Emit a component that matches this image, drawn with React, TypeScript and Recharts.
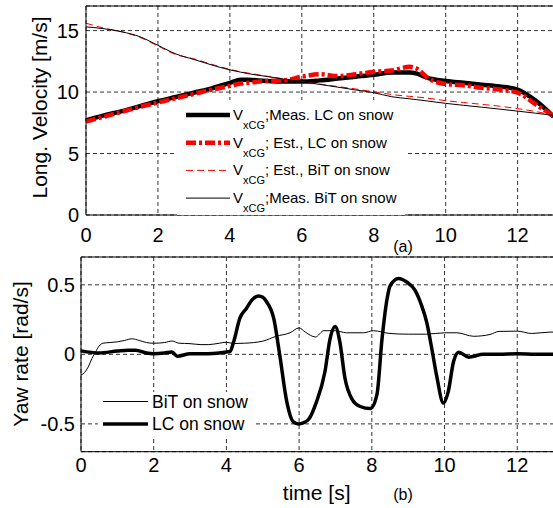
import { CartesianGrid, Legend, Line, LineChart, ReferenceLine, XAxis, YAxis } from "recharts";

const FONT = '"Liberation Sans", Arial, Helvetica, sans-serif';

// (a) longitudinal velocity
const velTime = [0, 0.5, 1, 1.5, 2, 2.5, 3, 3.5, 4, 4.3, 4.5, 5, 5.5, 6, 6.5, 7, 7.5, 8, 8.5, 9, 9.2, 9.5, 10, 10.5, 11, 11.5, 12, 12.5, 13];
const measLC = [7.7, 8.1, 8.45, 8.85, 9.25, 9.6, 9.95, 10.3, 10.75, 11.0, 11.0, 10.9, 10.85, 10.85, 10.95, 11.1, 11.25, 11.4, 11.6, 11.6, 11.5, 11.15, 10.9, 10.75, 10.6, 10.45, 10.2, 9.3, 8.0];
const estLC = [7.6, 8.0, 8.4, 8.8, 9.15, 9.5, 9.85, 10.2, 10.5, 10.7, 10.75, 10.9, 10.95, 11.25, 11.45, 11.3, 11.45, 11.65, 11.75, 12.05, 11.9, 11.15, 10.65, 10.55, 10.35, 10.2, 9.95, 9.0, 8.05];
const estBiT = [15.6, 15.2, 14.9, 14.45, 13.75, 13.05, 12.7, 12.25, 11.85, 11.65, 11.55, 11.3, 11.08, 10.86, 10.65, 10.45, 10.25, 10.02, 9.8, 9.65, 9.6, 9.5, 9.3, 9.15, 9.0, 8.85, 8.65, 8.42, 8.1];
const measBiT = [15.3, 15.15, 14.9, 14.5, 13.8, 13.1, 12.65, 12.2, 11.8, 11.62, 11.5, 11.28, 11.05, 10.84, 10.62, 10.4, 10.17, 9.95, 9.62, 9.45, 9.38, 9.27, 9.08, 8.92, 8.77, 8.61, 8.45, 8.28, 8.1];

// (b) yaw rate
const lcTime = [0, 0.5, 1, 1.3, 1.5, 1.8, 2, 2.3, 2.5, 2.65, 3, 3.5, 3.8, 4, 4.1, 4.2, 4.37, 4.55, 4.7, 4.88, 5.0, 5.1, 5.3, 5.47, 5.66, 5.84, 5.98, 6.25, 6.48, 6.71, 6.85, 6.99, 7.12, 7.26, 7.45, 7.68, 7.96, 8.14, 8.28, 8.42, 8.5, 8.73, 8.96, 9.19, 9.37, 9.51, 9.65, 9.78, 9.97, 10.1, 10.25, 10.39, 10.66, 11.07, 11.5, 12, 12.5, 13];
const lcYaw = [0.025, 0.01, 0.024, 0.03, 0.03, 0.01, 0.005, 0.01, 0.017, -0.014, 0.005, 0.005, 0.01, 0.017, 0.02, 0.09, 0.26, 0.33, 0.39, 0.42, 0.41, 0.38, 0.26, -0.01, -0.34, -0.485, -0.5, -0.47, -0.34, -0.125, 0.11, 0.2, 0.09, -0.17, -0.32, -0.375, -0.39, -0.29, 0.11, 0.4, 0.49, 0.545, 0.52, 0.46, 0.35, 0.23, 0.04, -0.15, -0.35, -0.27, -0.05, 0.015, -0.02, 0, 0, 0.005, 0, 0];
const bitTime = [0, 0.1, 0.2, 0.3, 0.4, 0.5, 0.6, 0.8, 1, 1.2, 1.4, 1.6, 1.8, 2, 2.3, 2.5, 2.7, 3, 3.3, 3.5, 3.8, 4, 4.2, 4.5, 5, 5.37, 5.75, 6, 6.17, 6.45, 6.68, 7, 7.3, 7.77, 8.04, 8.5, 9, 9.5, 10, 10.34, 10.8, 11.25, 11.5, 12, 12.4, 12.9, 13];
const bitYaw = [-0.15, -0.13, -0.09, -0.03, 0.017, 0.06, 0.08, 0.085, 0.09, 0.1, 0.112, 0.1, 0.085, 0.08, 0.085, 0.096, 0.08, 0.077, 0.07, 0.07, 0.08, 0.087, 0.078, 0.08, 0.095, 0.13, 0.155, 0.19, 0.16, 0.125, 0.17, 0.17, 0.155, 0.155, 0.17, 0.15, 0.145, 0.145, 0.155, 0.155, 0.13, 0.143, 0.165, 0.167, 0.15, 0.16, 0.16];

const xTicks = [0, 2, 4, 6, 8, 10, 12];
const velTicks = [0, 5, 10, 15];
const yawTicks = [-0.5, 0, 0.5];
const velLegend = [";Meas. LC on snow", "; Est., LC on snow", "; Est., BiT on snow", ";Meas. BiT on snow"];
const yawLegend = ["BiT on snow", "LC on snow"];

const velData = velTime.map((t, i) => ({
  t,
  measLC: measLC[i],
  estLC: estLC[i],
  estBiT: estBiT[i],
  measBiT: measBiT[i],
}));
const lcData = lcTime.map((t, i) => ({ t, yaw: lcYaw[i] }));
const bitData = bitTime.map((t, i) => ({ t, yaw: bitYaw[i] }));

const velStyles = [
  { stroke: "#000", width: 4.5, dash: undefined },
  { stroke: "#ff0000", width: 4.5, dash: "10 3 3 3" },
  { stroke: "#ff0000", width: 1, dash: "7 4" },
  { stroke: "#000", width: 1, dash: undefined },
];
const yawStyles = [
  { stroke: "#000", width: 1 },
  { stroke: "#000", width: 3.5 },
];

const tickStyle = { fontSize: 20, fill: "#000", fontFamily: FONT };

function VelLegend() {
  return (
    <svg width={228} height={115} style={{ display: "block", background: "#fff" }}>
      {velLegend.map((label, i) => {
        const ly = 15 + i * 27.7;
        const s = velStyles[i];
        return (
          <g key={label}>
            <line x1={9} x2={53} y1={ly} y2={ly} stroke={s.stroke} strokeWidth={s.width} strokeDasharray={s.dash} />
            <text x={56} y={ly + 5} fontSize={15} fontFamily={FONT} fill="#000">
              V<tspan fontSize={11} dy={9}>xCG</tspan>
              <tspan dy={-9}>{label}</tspan>
            </text>
          </g>
        );
      })}
    </svg>
  );
}

function YawLegend() {
  return (
    <svg width={157} height={44} style={{ display: "block", background: "#fff" }}>
      {yawLegend.map((label, i) => {
        const ly = 9.5 + i * 22.5;
        return (
          <g key={label}>
            <line x1={5} x2={50} y1={ly} y2={ly} stroke={yawStyles[i].stroke} strokeWidth={yawStyles[i].width} />
            <text x={54} y={ly + 6.3} fontSize={17.5} fontFamily={FONT} fill="#000">
              {label}
            </text>
          </g>
        );
      })}
    </svg>
  );
}

const VelYLabel = () => (
  <text x={46.5} y={107.5} transform="rotate(-90 46.5 107.5)" textAnchor="middle" fontSize={21} fontFamily={FONT} fill="#000">
    Long. Velocity [m/s]
  </text>
);
const VelXLabel = () => (
  <text x={403} y={252} textAnchor="middle" fontSize={16} fontFamily={FONT} fill="#000">
    (a)
  </text>
);
const YawYLabel = () => (
  <text x={28} y={104} transform="rotate(-90 28 104)" textAnchor="middle" fontSize={21} fontFamily={FONT} fill="#000">
    Yaw rate [rad/s]
  </text>
);
const YawXLabel = () => (
  <g>
    <text x={316.7} y={250} textAnchor="middle" fontSize={21} fontFamily={FONT} fill="#000">
      time [s]
    </text>
    <text x={403} y={250} textAnchor="middle" fontSize={16} fontFamily={FONT} fill="#000">
      (b)
    </text>
  </g>
);

export default function App() {
  return (
    <div
      style={{
        position: "fixed",
        left: 0,
        top: 0,
        width: 553,
        height: 508,
        overflow: "hidden",
        background: "#fff",
        fontFamily: FONT,
      }}
    >
      <div style={{ position: "absolute", left: 0, top: 0 }}>
        <LineChart width={560} height={260} data={velData} margin={{ top: 6, right: 6.4, left: 0, bottom: 10 }}>
          <CartesianGrid stroke="#333" strokeDasharray="4 3" />
          <XAxis
            dataKey="t"
            type="number"
            domain={[0, 13]}
            ticks={xTicks}
            height={35}
            tickLine={false}
            tickSize={6}
            tickMargin={7}
            tick={tickStyle}
            axisLine={{ stroke: "#000" }}
            label={{ content: VelXLabel }}
          />
          <YAxis
            type="number"
            domain={[0, 17]}
            ticks={velTicks}
            width={86}
            tickLine={false}
            tickSize={6}
            tickMargin={1}
            tick={tickStyle}
            axisLine={{ stroke: "#000" }}
            label={{ content: VelYLabel }}
          />
          <ReferenceLine y={17} stroke="#000" />
          <ReferenceLine x={13} stroke="#000" />
          {(["measLC", "estLC", "estBiT", "measBiT"] as const).map((key, i) => (
            <Line
              key={key}
              dataKey={key}
              type="monotone"
              stroke={velStyles[i].stroke}
              strokeWidth={velStyles[i].width}
              strokeDasharray={velStyles[i].dash}
              dot={false}
              activeDot={false}
              isAnimationActive={false}
            />
          ))}
          <Legend
            layout="horizontal"
            verticalAlign="middle"
            align="center"
            content={() => <VelLegend />}
            wrapperStyle={{ left: 177, top: 100, width: 228, height: 115 }}
          />
        </LineChart>
      </div>

      <div style={{ position: "absolute", left: 0, top: 250 }}>
        <LineChart width={560} height={258} margin={{ top: 7, right: 6.4, left: 0, bottom: 0 }}>
          <CartesianGrid stroke="#333" strokeDasharray="4 3" />
          <XAxis
            dataKey="t"
            type="number"
            domain={[0, 13]}
            ticks={xTicks}
            height={56.3}
            tickLine={false}
            tickSize={6}
            tickMargin={0}
            tick={tickStyle}
            axisLine={{ stroke: "#000" }}
            label={{ content: YawXLabel }}
          />
          <YAxis
            type="number"
            domain={[-0.7, 0.7]}
            ticks={yawTicks}
            width={81}
            tickLine={false}
            tickSize={6}
            tickMargin={0}
            tick={tickStyle}
            axisLine={{ stroke: "#000" }}
            label={{ content: YawYLabel }}
          />
          <ReferenceLine y={0.7} stroke="#000" />
          <ReferenceLine x={13} stroke="#000" />
          <Line
            data={bitData}
            dataKey="yaw"
            type="monotone"
            stroke={yawStyles[0].stroke}
            strokeWidth={yawStyles[0].width}
            dot={false}
            activeDot={false}
            isAnimationActive={false}
          />
          <Line
            data={lcData}
            dataKey="yaw"
            type="monotone"
            stroke={yawStyles[1].stroke}
            strokeWidth={yawStyles[1].width}
            dot={false}
            activeDot={false}
            isAnimationActive={false}
          />
          <Legend
            layout="horizontal"
            verticalAlign="middle"
            align="center"
            content={() => <YawLegend />}
            wrapperStyle={{ left: 98, top: 142, width: 157, height: 44 }}
          />
        </LineChart>
      </div>
    </div>
  );
}
